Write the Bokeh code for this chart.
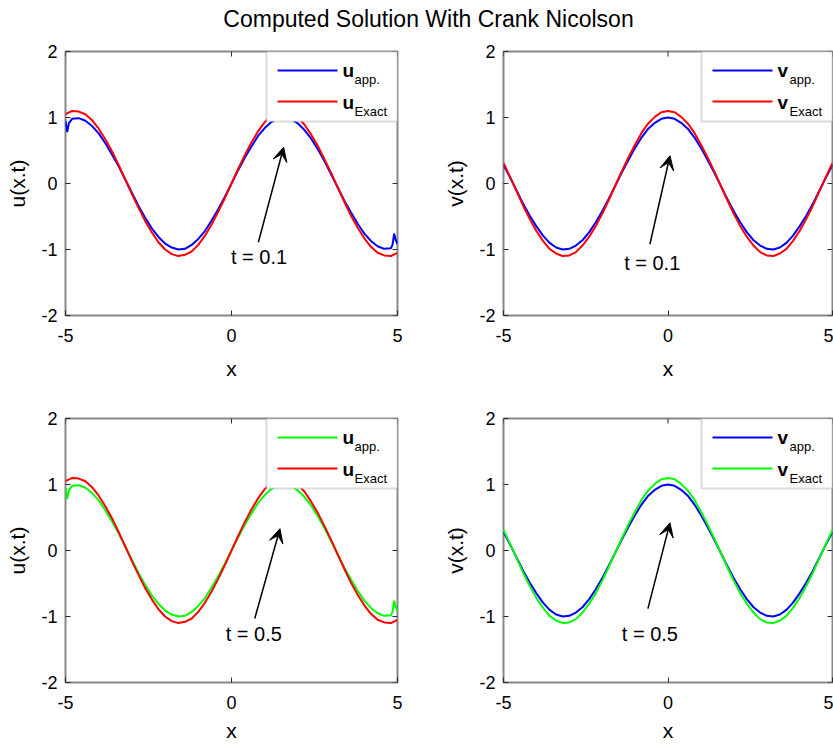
from bokeh.plotting import figure
from bokeh.layouts import column, row
from bokeh.models import Range1d, FixedTicker, BoxAnnotation, Label, Arrow, VeeHead
from bokeh.embed import file_html
from bokeh.resources import INLINE

# ---------------- data ----------------
title_text = "Computed Solution With Crank Nicolson"

x_grid = [-5.0, -4.8, -4.6, -4.4, -4.2, -4.0, -3.8, -3.6, -3.4, -3.2,
          -3.0, -2.8, -2.6, -2.4, -2.2, -2.0, -1.8, -1.6, -1.4, -1.2,
          -1.0, -0.8, -0.6, -0.4, -0.2, 0.0, 0.2, 0.4, 0.6, 0.8,
          1.0, 1.2, 1.4, 1.6, 1.8, 2.0, 2.2, 2.4, 2.6, 2.8,
          3.0, 3.2, 3.4, 3.6, 3.8, 4.0, 4.2, 4.4, 4.6, 4.8, 5.0]

u_exact = [1.05, 1.10, 1.09, 1.05, 0.96, 0.83, 0.67, 0.49, 0.28, 0.06,
           -0.16, -0.37, -0.57, -0.74, -0.89, -1.00, -1.07, -1.10, -1.08, -1.03,
           -0.93, -0.79, -0.62, -0.43, -0.22, 0.00, 0.22, 0.43, 0.62, 0.79,
           0.93, 1.03, 1.08, 1.10, 1.07, 1.00, 0.89, 0.74, 0.57, 0.37,
           0.16, -0.06, -0.28, -0.49, -0.67, -0.83, -0.96, -1.05, -1.09, -1.10, -1.05]

x_u_app = [-5.0, -4.95, -4.9, -4.8, -4.6, -4.4, -4.2, -4.0, -3.8, -3.6, -3.4, -3.2,
           -3.0, -2.8, -2.6, -2.4, -2.2, -2.0, -1.8, -1.6, -1.4, -1.2,
           -1.0, -0.8, -0.6, -0.4, -0.2, 0.0, 0.2, 0.4, 0.6, 0.8,
           1.0, 1.2, 1.4, 1.6, 1.8, 2.0, 2.2, 2.4, 2.6, 2.8,
           3.0, 3.2, 3.4, 3.6, 3.8, 4.0, 4.2, 4.4, 4.6, 4.8, 4.85, 4.9, 4.95, 5.0]

u_app = [0.95, 0.78, 0.91, 0.98, 0.99, 0.95, 0.87, 0.76, 0.61, 0.44, 0.26, 0.06,
         -0.14, -0.34, -0.52, -0.68, -0.81, -0.91, -0.97, -1.00, -0.99, -0.93,
         -0.84, -0.72, -0.56, -0.39, -0.20, 0.00, 0.20, 0.39, 0.56, 0.72,
         0.84, 0.93, 0.99, 1.00, 0.97, 0.91, 0.81, 0.68, 0.52, 0.34,
         0.14, -0.06, -0.26, -0.44, -0.61, -0.76, -0.87, -0.95, -0.99, -0.98, -0.93, -0.76, -0.86, -0.92]

v_exact = [0.31, 0.10, -0.12, -0.34, -0.54, -0.72, -0.87, -0.99, -1.06, -1.10,
           -1.09, -1.04, -0.94, -0.81, -0.65, -0.46, -0.25, -0.03, 0.19, 0.40,
           0.59, 0.77, 0.91, 1.01, 1.08, 1.10, 1.08, 1.01, 0.91, 0.77,
           0.59, 0.40, 0.19, -0.03, -0.25, -0.46, -0.65, -0.81, -0.94, -1.04,
           -1.09, -1.10, -1.06, -0.99, -0.87, -0.72, -0.54, -0.34, -0.12, 0.10, 0.31]

v_app = [0.28, 0.09, -0.11, -0.31, -0.49, -0.65, -0.79, -0.90, -0.97, -1.00,
         -0.99, -0.94, -0.86, -0.74, -0.59, -0.42, -0.23, -0.03, 0.17, 0.36,
         0.54, 0.70, 0.83, 0.92, 0.98, 1.00, 0.98, 0.92, 0.83, 0.70,
         0.54, 0.36, 0.17, -0.03, -0.23, -0.42, -0.59, -0.74, -0.86, -0.94,
         -0.99, -1.00, -0.97, -0.90, -0.79, -0.65, -0.49, -0.31, -0.11, 0.09, 0.28]

x_ticks = [-5, 0, 5]
y_ticks = [-2, -1, 0, 1, 2]
x_tick_labels = {-5: "-5", 0: "0", 5: "5"}
y_tick_labels = {-2: "-2", -1: "-1", 0: "0", 1: "1", 2: "2"}

# ---------------- styling ----------------
FONT = "Liberation Sans"
BOX = "#878787"
TICK = "#2a2a2a"
BLUE = "#0000ff"
RED = "#ff0000"
GREEN = "#00ff00"
TICK_LEN = 5


def style_axis(ax, ticks, labels):
    ax.ticker = FixedTicker(ticks=ticks)
    ax.major_label_overrides = labels
    ax.axis_line_color = None
    ax.major_tick_in = TICK_LEN
    ax.major_tick_out = 0
    ax.major_tick_line_color = TICK
    ax.minor_tick_line_color = None
    ax.major_label_text_font = FONT
    ax.major_label_text_font_size = "18px"
    ax.major_label_text_color = "black"
    ax.axis_label_text_font = FONT
    ax.axis_label_text_font_size = "21px"
    ax.axis_label_text_font_style = "normal"
    ax.axis_label_text_color = "black"


def panel(width, height, left, right, top, bottom, ylabel, series, legend, arrow, tlabel,
          xlabel_standoff):
    p = figure(width=width, height=height, x_range=Range1d(-5, 5), y_range=Range1d(-2, 2),
               toolbar_location=None, output_backend="svg",
               min_border_left=left, min_border_right=right,
               min_border_top=top, min_border_bottom=bottom,
               outline_line_color=BOX, outline_line_width=2,
               background_fill_color="white", border_fill_color="white")
    p.grid.visible = False
    style_axis(p.xaxis[0], x_ticks, x_tick_labels)
    style_axis(p.yaxis[0], y_ticks, y_tick_labels)
    p.xaxis[0].axis_label = "x"
    p.xaxis[0].major_label_standoff = 13
    p.xaxis[0].axis_label_standoff = xlabel_standoff
    p.yaxis[0].axis_label = ylabel
    p.yaxis[0].major_label_standoff = 8
    p.yaxis[0].axis_label_standoff = 9

    fw = width - left - right
    fh = height - top - bottom
    sx = 10.0 / fw
    sy = 4.0 / fh

    def X(px):
        return 5 - px * sx

    def Y(px):
        return 2 - px * sy

    # inward ticks on the top and right edges of the box
    p.segment(x0=x_ticks, x1=x_ticks, y0=[2] * len(x_ticks), y1=[Y(TICK_LEN)] * len(x_ticks),
              line_color=TICK, line_width=1)
    p.segment(x0=[5] * len(y_ticks), x1=[X(TICK_LEN)] * len(y_ticks), y0=y_ticks, y1=y_ticks,
              line_color=TICK, line_width=1)

    for xs, ys, color in series:
        p.line(xs, ys, line_color=color, line_width=2)

    # custom legend, placed in pixels from the frame's top-right corner
    p.add_layout(BoxAnnotation(left=X(131), right=5, top=2, bottom=Y(70),
                               fill_color="white", fill_alpha=1.0,
                               line_color=BOX, line_width=2, level="annotation"))
    (main, sub1, c1), (_, sub2, c2) = legend
    seg = p.segment(x0=[X(120), X(120)], x1=[X(60), X(60)], y0=[Y(19), Y(50)], y1=[Y(19), Y(50)],
                    line_color=[c1, c2], line_width=2)
    seg.level = "overlay"
    for yy, sub in ((19, sub1), (51, sub2)):
        p.add_layout(Label(x=X(55), y=Y(yy), text=main, text_font=FONT, text_font_size="19px",
                           text_font_style="bold", text_align="left", text_baseline="middle",
                           text_color="black", level="overlay"))
        p.add_layout(Label(x=X(43), y=Y(yy + 9), text=sub, text_font=FONT, text_font_size="13px",
                           text_align="left", text_baseline="middle", text_color="black",
                           level="overlay"))

    (xs0, ys0), (xs1, ys1), (xt, yt) = arrow
    p.add_layout(Arrow(x_start=xs0, y_start=ys0, x_end=xs1, y_end=ys1,
                       line_color="black", line_width=1.5,
                       end=VeeHead(size=14, fill_color="black", line_color="black")))
    p.add_layout(Label(x=xt, y=yt, text=tlabel, text_font=FONT, text_font_size="20px",
                       text_align="center", text_baseline="middle", text_color="black"))
    return p


# title strip
t = figure(width=833, height=36, x_range=Range1d(0, 833), y_range=Range1d(0, 36),
           toolbar_location=None, output_backend="svg", min_border=0,
           x_axis_type=None, y_axis_type=None, outline_line_color=None)
t.add_layout(Label(x=428, y=18, text=title_text, text_font=FONT, text_font_size="23px",
                   text_align="center", text_baseline="middle", text_color="black"))

tl = panel(440, 367, 65, 43, 15, 88, "u(x.t)",
           [(x_u_app, u_app, BLUE), (x_grid, u_exact, RED)],
           [("u", "app.", BLUE), ("u", "Exact", RED)],
           ((0.81, -0.89), (1.57, 0.55), (0.83, -1.12)), "t = 0.1", 12)
tr = panel(393, 367, 63, 1, 15, 88, "v(x.t)",
           [(x_grid, v_app, BLUE), (x_grid, v_exact, RED)],
           [("v", "app.", BLUE), ("v", "Exact", RED)],
           ((-0.55, -0.92), (0.06, 0.42), (-0.48, -1.21)), "t = 0.1", 12)
bl = panel(440, 341, 65, 43, 15, 62, "u(x.t)",
           [(x_u_app, u_app, GREEN), (x_grid, u_exact, RED)],
           [("u", "app.", GREEN), ("u", "Exact", RED)],
           ((0.70, -1.03), (1.46, 0.33), (0.67, -1.26)), "t = 0.5", 7)
br = panel(393, 341, 63, 1, 15, 62, "v(x.t)",
           [(x_grid, v_app, BLUE), (x_grid, v_exact, GREEN)],
           [("v", "app.", BLUE), ("v", "Exact", GREEN)],
           ((-0.61, -0.88), (0.06, 0.42), (-0.55, -1.26)), "t = 0.5", 7)

layout = column(t, row(tl, tr), row(bl, br))
open("out.html", "w").write(file_html(layout, INLINE))
